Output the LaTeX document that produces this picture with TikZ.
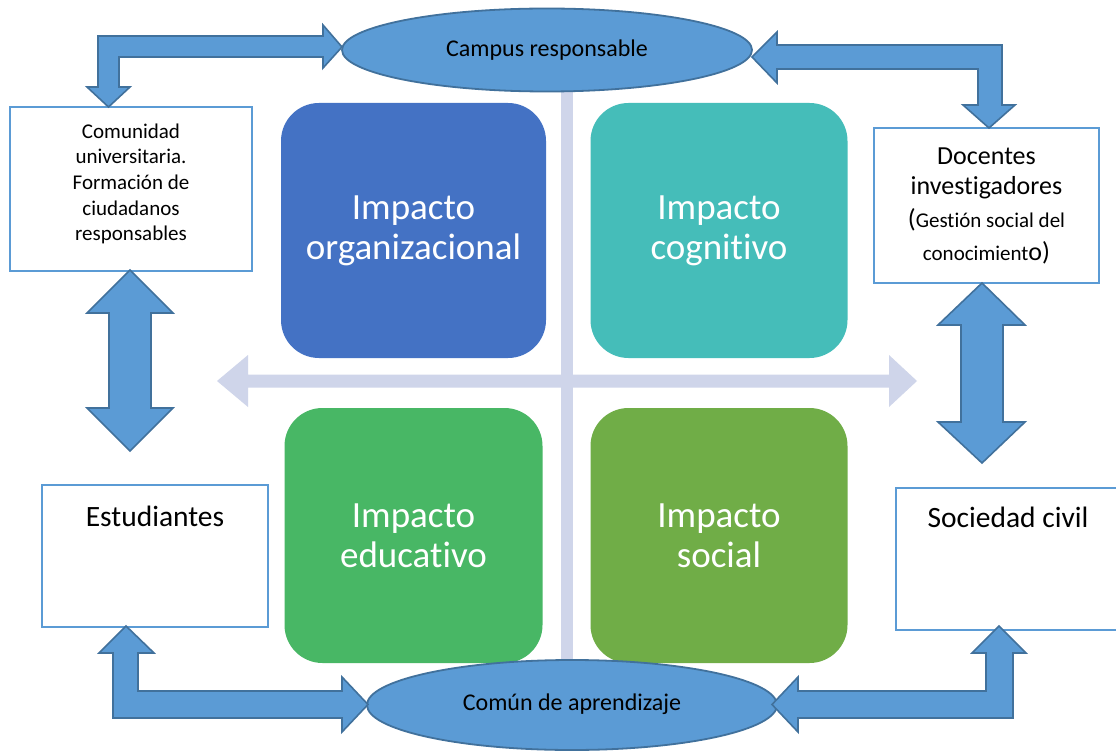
\documentclass[tikz,border=0pt]{standalone}
\usepackage{fontspec}
\setmainfont{Carlito}[Ligatures=NoCommon]
\usetikzlibrary{shapes.geometric}
\definecolor{axiscol}{HTML}{CFD5EA}
\definecolor{arrfill}{HTML}{5B9BD5}
\definecolor{arrline}{HTML}{41719C}
\definecolor{boxline}{HTML}{5B9BD5}
\definecolor{orgblue}{HTML}{4472C4}
\definecolor{cogteal}{HTML}{45BDB9}
\definecolor{edugreen}{HTML}{48B765}
\definecolor{socgreen}{HTML}{70AD47}
\begin{document}
\begin{tikzpicture}[x=1pt,y=-1pt,
  impact/.style={rectangle, rounded corners=38pt, text=white, align=center,
    font=\fontsize{37}{40}\selectfont, inner sep=0pt, minimum height=255pt},
  hub/.style={ellipse, draw=arrline, fill=arrfill, line width=1.8pt, inner sep=0pt,
    font=\fontsize{24}{29}\selectfont},
  actor/.style={rectangle, draw=boxline, fill=white, line width=2.2pt, inner sep=0pt},
  blockarrow/.style={draw=arrline, fill=arrfill, line width=1.6pt, line join=miter},
  axisshape/.style={fill=axiscol}
]
\useasboundingbox (0,0) rectangle (1116,751);
\fill[white] (0,0) rectangle (1116,751);
\clip (0,0) rectangle (1116,751);

% axes
\fill[axisshape] (561,85) rectangle (573,665);
\fill[axisshape] (217,381) -- (248,355) -- (248,374.5) -- (889,374.5) -- (889,355)
  -- (917,381) -- (889,407) -- (889,387.5) -- (248,387.5) -- (248,407) -- cycle;

% impact boxes
\node[impact, fill=orgblue, minimum width=265pt]  (org) at (413.5,230.5) {Impacto\\organizacional};
\node[impact, fill=cogteal, minimum width=257pt]  (cog) at (719,230.5) {Impacto\\cognitivo};
\node[impact, fill=edugreen, minimum width=258pt] (edu) at (413.5,535.5) {Impacto\\educativo};
\node[impact, fill=socgreen, minimum width=257pt] (soc) at (719,535.5) {Impacto\\social};

% hubs
\node[hub, minimum width=410pt, minimum height=83pt] (campus) at (547,50) {Campus responsable};
\node[hub, minimum width=410pt, minimum height=90pt] (comun) at (572,705) {\raisebox{6pt}{Común de aprendizaje}};

% actor boxes
\node[actor, minimum width=242pt, minimum height=164pt] (com) at (131,189) {};
\node[align=center, font=\fontsize{21}{25.7}\selectfont] (comtxt) at (131,184)
  {Comunidad\\universitaria.\\Formación de\\ciudadanos\\responsables};

\node[actor, minimum width=225pt, minimum height=155pt, align=center,
  font=\fontsize{26}{33}\selectfont] (doc) at (986.5,205.5)
  {\raisebox{-3pt}{Docentes}\\investigadores\\({\fontsize{21}{33}\selectfont Gestión social del}\\{\fontsize{21}{33}\selectfont conocimient}o)};

\node[actor, minimum width=226pt, minimum height=142pt] (est) at (155,556) {};
\node[font=\fontsize{29.5}{35}\selectfont] (esttxt) at (155,516) {Estudiantes};

\node[actor, minimum width=224pt, minimum height=142pt] (socbox) at (1008,559) {};
\node[font=\fontsize{29.5}{35}\selectfont] (soctxt) at (1008,517) {Sociedad civil};

% block arrows
% campus <-> comunidad
\draw[blockarrow] (342,47) -- (323,25) -- (323,36) -- (98,36) -- (98,87) -- (87,87)
  -- (108.5,107) -- (130,87) -- (119,87) -- (119,57) -- (323,57) -- (323,68) -- cycle;
% campus <-> docentes
\draw[blockarrow] (752,57) -- (777,32) -- (777,45) -- (1002,45) -- (1002,105) -- (1015,105)
  -- (989,128) -- (963,105) -- (978,105) -- (978,69) -- (777,69) -- (777,83) -- cycle;
% estudiantes <-> comun
\draw[blockarrow] (126,626) -- (154,653) -- (138,653) -- (138,691) -- (342,691) -- (342,677)
  -- (368,704.5) -- (342,732) -- (342,718) -- (113,718) -- (113,653) -- (99,653) -- cycle;
% sociedad <-> comun
\draw[blockarrow] (772,704.5) -- (798,677) -- (798,691) -- (986,691) -- (986,653) -- (972,653)
  -- (999,626) -- (1026,653) -- (1013,653) -- (1013,718) -- (798,718) -- (798,732) -- cycle;
% comunidad <-> estudiantes
\draw[blockarrow] (130,270) -- (173,313) -- (151,313) -- (151,408) -- (173,408) -- (130,451)
  -- (87,408) -- (109,408) -- (109,313) -- (87,313) -- cycle;
% docentes <-> sociedad
\draw[blockarrow] (982,283) -- (1025,325) -- (1003,325) -- (1003,422) -- (1025,422) -- (982,463)
  -- (938,422) -- (961,422) -- (961,325) -- (938,325) -- cycle;
\end{tikzpicture}
\end{document}
